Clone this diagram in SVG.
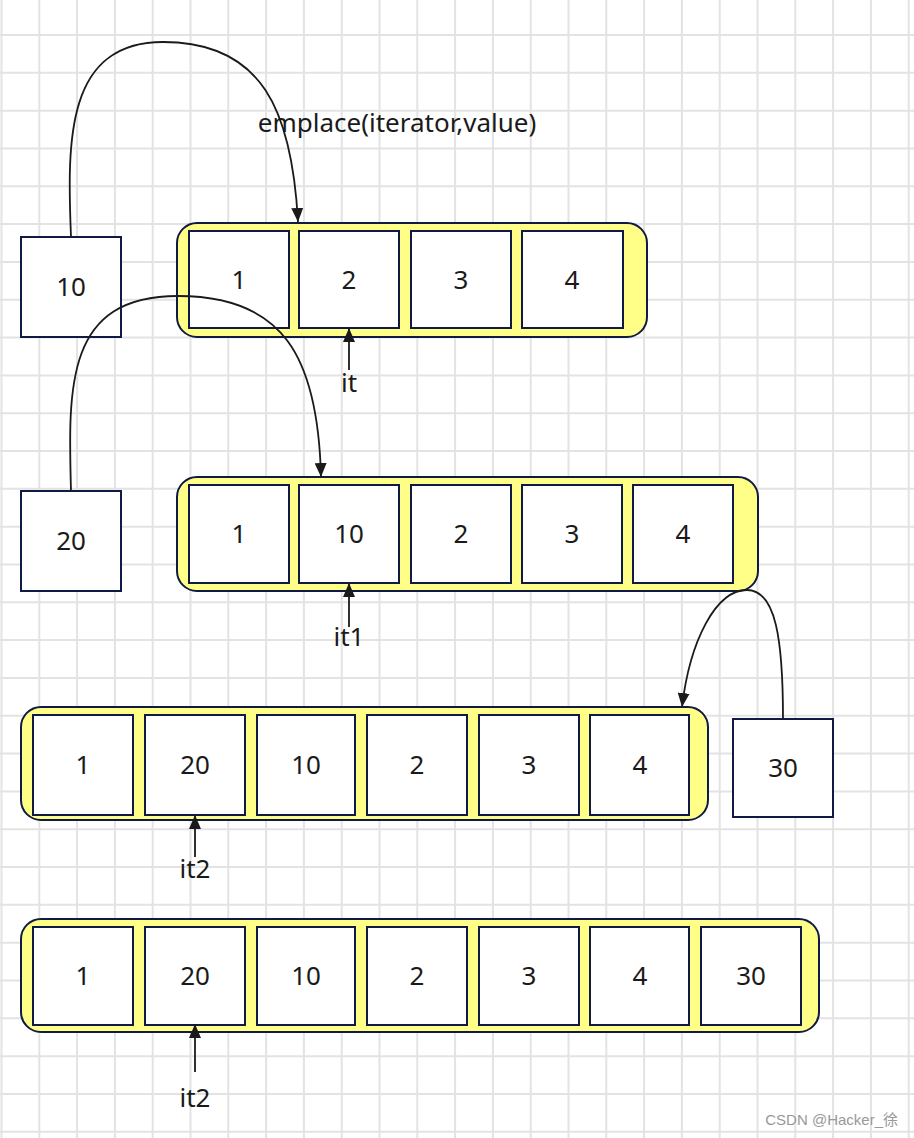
<svg xmlns="http://www.w3.org/2000/svg" width="914" height="1138" viewBox="0 0 914 1138">
<style>
.grid{stroke:#e3e3e3;stroke-width:2;fill:none}
.cont{fill:#ffff88;stroke:#101b45;stroke-width:2}
.cell{fill:#ffffff;stroke:#101b45;stroke-width:2}
.t{font-family:"Noto Sans","Open Sans","Liberation Sans",sans-serif;font-size:26px;fill:#1a1a1a;text-anchor:middle}
.edge{fill:none;stroke:#1a1a1a;stroke-width:1.8}
.wm{font-family:"Liberation Sans","Noto Sans CJK SC",sans-serif;font-size:15px;fill:#999999;text-anchor:end}
</style>
<defs>
<marker id="arr" viewBox="0 0 14 12" refX="14" refY="6" markerWidth="14" markerHeight="12" markerUnits="userSpaceOnUse" orient="auto">
<path d="M0,0 L14,6 L0,12 z" fill="#1a1a1a"/>
</marker>
</defs>
<rect width="914" height="1138" fill="#ffffff"/>
<path class="grid" d="M1.5 0V1138M39.3 0V1138M77.1 0V1138M114.9 0V1138M152.7 0V1138M190.5 0V1138M228.3 0V1138M266.1 0V1138M303.9 0V1138M341.7 0V1138M379.5 0V1138M417.3 0V1138M455.1 0V1138M492.9 0V1138M530.7 0V1138M568.5 0V1138M606.3 0V1138M644.1 0V1138M681.9 0V1138M719.7 0V1138M757.5 0V1138M795.3 0V1138M833.1 0V1138M870.9 0V1138M908.7 0V1138
M0 35H914M0 72.82H914M0 110.64H914M0 148.46H914M0 186.28H914M0 224.1H914M0 261.92H914M0 299.74H914M0 337.56H914M0 375.38H914M0 413.2H914M0 451.02H914M0 488.84H914M0 526.66H914M0 564.48H914M0 602.3H914M0 640.12H914M0 677.94H914M0 715.76H914M0 753.58H914M0 791.4H914M0 829.22H914M0 867.04H914M0 904.86H914M0 942.68H914M0 980.5H914M0 1018.32H914M0 1056.14H914M0 1093.96H914M0 1131.78H914"/>

<text class="t" x="397" y="132">emplace(iterator,value)</text>

<g id="box10"><rect class="cell" x="21" y="237" width="100" height="100"/><text class="t" x="71" y="296">10</text></g>
<g id="box20"><rect class="cell" x="21" y="491" width="100" height="100"/><text class="t" x="71" y="550">20</text></g>
<g id="box30"><rect class="cell" x="733" y="719" width="100" height="98"/><text class="t" x="783" y="777">30</text></g>

<g id="row1">
<rect class="cont" x="177" y="223" width="470" height="114" rx="20"/>
<rect class="cell" x="189" y="231" width="100" height="97"/><text class="t" x="239" y="289">1</text>
<rect class="cell" x="299" y="231" width="100" height="97"/><text class="t" x="349" y="289">2</text>
<rect class="cell" x="411" y="231" width="100" height="97"/><text class="t" x="461" y="289">3</text>
<rect class="cell" x="522" y="231" width="101" height="97"/><text class="t" x="572" y="289">4</text>
</g>

<g id="row2">
<rect class="cont" x="177" y="477" width="581" height="114" rx="20"/>
<rect class="cell" x="189" y="485" width="100" height="98"/><text class="t" x="239" y="543">1</text>
<rect class="cell" x="299" y="485" width="100" height="98"/><text class="t" x="349" y="543">10</text>
<rect class="cell" x="411" y="485" width="100" height="98"/><text class="t" x="461" y="543">2</text>
<rect class="cell" x="522" y="485" width="100" height="98"/><text class="t" x="572" y="543">3</text>
<rect class="cell" x="633" y="485" width="100" height="98"/><text class="t" x="683" y="543">4</text>
</g>

<g id="row3">
<rect class="cont" x="21" y="707" width="687" height="113" rx="20"/>
<rect class="cell" x="33" y="715" width="100" height="100"/><text class="t" x="83" y="774">1</text>
<rect class="cell" x="145" y="715" width="100" height="100"/><text class="t" x="195" y="774">20</text>
<rect class="cell" x="257" y="715" width="98" height="100"/><text class="t" x="306" y="774">10</text>
<rect class="cell" x="367" y="715" width="100" height="100"/><text class="t" x="417" y="774">2</text>
<rect class="cell" x="479" y="715" width="100" height="100"/><text class="t" x="529" y="774">3</text>
<rect class="cell" x="590" y="715" width="99" height="100"/><text class="t" x="640" y="774">4</text>
</g>

<g id="row4">
<rect class="cont" x="21" y="919" width="798" height="113" rx="20"/>
<rect class="cell" x="33" y="927" width="100" height="98"/><text class="t" x="83" y="985">1</text>
<rect class="cell" x="145" y="927" width="100" height="98"/><text class="t" x="195" y="985">20</text>
<rect class="cell" x="257" y="927" width="98" height="98"/><text class="t" x="306" y="985">10</text>
<rect class="cell" x="367" y="927" width="100" height="98"/><text class="t" x="417" y="985">2</text>
<rect class="cell" x="479" y="927" width="100" height="98"/><text class="t" x="529" y="985">3</text>
<rect class="cell" x="590" y="927" width="99" height="98"/><text class="t" x="640" y="985">4</text>
<rect class="cell" x="701" y="927" width="100" height="98"/><text class="t" x="751" y="985">30</text>
</g>

<g id="connectors">
<path class="edge" marker-end="url(#arr)" d="M71,237 C67,140 66,42 163,42 C262,42 292,110 298,222"/>
<path class="edge" marker-end="url(#arr)" d="M71,491 C68,385 66,296 178,296 C282,296 318,355 321,477"/>
<path class="edge" marker-end="url(#arr)" d="M783,719 C783,640 776,590 747,590 C716,590 690,640 682,707"/>
<path class="edge" marker-end="url(#arr)" d="M349,370 V328"/>
<path class="edge" marker-end="url(#arr)" d="M349,627 V583"/>
<path class="edge" marker-end="url(#arr)" d="M195,857 V815"/>
<path class="edge" marker-end="url(#arr)" d="M195,1072 V1024"/>
</g>

<g id="labels">
<text class="t" x="349" y="392">it</text>
<text class="t" x="349" y="646">it1</text>
<text class="t" x="195" y="878">it2</text>
<text class="t" x="195" y="1107">it2</text>
</g>

<text class="wm" x="898" y="1125">CSDN @Hacker_徐</text>
</svg>
